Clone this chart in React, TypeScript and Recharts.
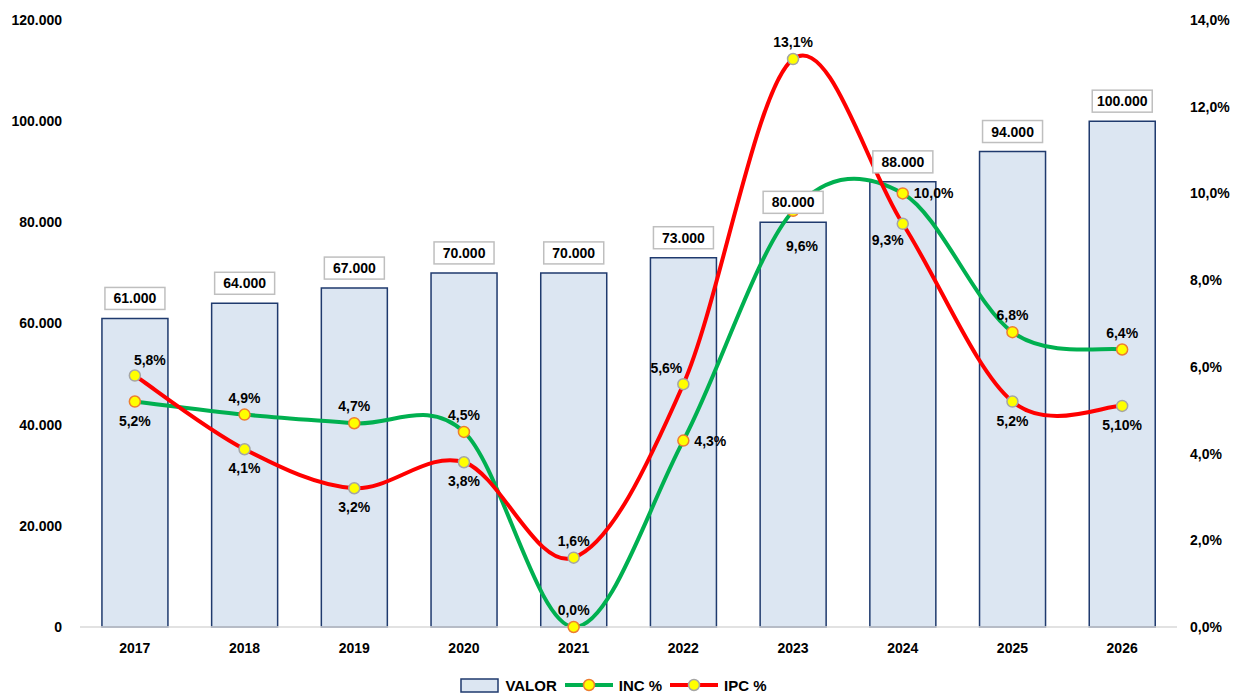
import React from 'react';
import { ComposedChart, Bar, Line, XAxis, YAxis, Legend, LabelList } from 'recharts';

const years = ['2017', '2018', '2019', '2020', '2021', '2022', '2023', '2024', '2025', '2026'];
const valor = [61000, 64000, 67000, 70000, 70000, 73000, 80000, 88000, 94000, 100000];
const inc = [5.2, 4.9, 4.7, 4.5, 0.0, 4.3, 9.6, 10.0, 6.8, 6.4];
const ipc = [5.8, 4.1, 3.2, 3.8, 1.6, 5.6, 13.1, 9.3, 5.2, 5.1];
const ipcText = ['5,8%', '4,1%', '3,2%', '3,8%', '1,6%', '5,6%', '13,1%', '9,3%', '5,2%', '5,10%'];
const leftTicks = [0, 20000, 40000, 60000, 80000, 100000, 120000];
const rightTicks = [0, 2, 4, 6, 8, 10, 12, 14];

// where each point label sits
const incPlace = ['bottom', 'top', 'top', 'top', 'top', 'right', 'bottomFar', 'right', 'top', 'top'];
const ipcPlace = ['topRight', 'bottom', 'bottom', 'bottom', 'top', 'topLeft', 'top', 'bottomLeft', 'bottom', 'bottom'];

const data = years.map((year, i) => ({ year, valor: valor[i], inc: inc[i], ipc: ipc[i] }));

const FONT = '"Liberation Sans", Arial, sans-serif';

const thousands = (v: number) => String(v).replace(/\B(?=(\d{3})+(?!\d))/g, '.');
const pct = (v: number) => v.toFixed(1).replace('.', ',') + '%';

// Excel-like smoothed line (Catmull-Rom as bezier)
function smoothCurve(context: any) {
  let pts: number[][] = [];
  return {
    areaStart() {},
    areaEnd() {},
    lineStart() {
      pts = [];
    },
    point(x: number, y: number) {
      pts.push([+x, +y]);
    },
    lineEnd() {
      if (!pts.length) return;
      context.moveTo(pts[0][0], pts[0][1]);
      for (let i = 0; i < pts.length - 1; i++) {
        const p0 = pts[i - 1] || pts[i];
        const p1 = pts[i];
        const p2 = pts[i + 1];
        const p3 = pts[i + 2] || p2;
        const t = 1 / 6;
        context.bezierCurveTo(
          p1[0] + (p2[0] - p0[0]) * t,
          p1[1] + (p2[1] - p0[1]) * t,
          p2[0] - (p3[0] - p1[0]) * t,
          p2[1] - (p3[1] - p1[1]) * t,
          p2[0],
          p2[1]
        );
      }
    },
  };
}

const makeDot = (stroke: string) => (props: any) => {
  const { cx, cy, index } = props;
  return <circle key={`d${index}`} cx={cx} cy={cy} r={5.5} fill="#FFFF00" stroke={stroke} strokeWidth={1.5} />;
};

const offsets: Record<string, [number, number]> = {
  top: [0, -17],
  bottom: [0, 19],
  topRight: [15, -16],
  topLeft: [-17, -16],
  bottomLeft: [-15, 16],
  bottomFar: [9, 35],
};

const makeLabel = (place: string[], texts: (i: number) => string) => (props: any) => {
  const { x, y, index } = props;
  const p = place[index];
  let anchor: 'middle' | 'start' = 'middle';
  let tx = x;
  let ty = y;
  if (p === 'right') {
    tx = x + 11;
    anchor = 'start';
  } else {
    tx = x + offsets[p][0];
    ty = y + offsets[p][1];
  }
  return (
    <text key={`l${index}`} x={tx} y={ty} textAnchor={anchor} dominantBaseline="central" fontFamily={FONT} fontSize={14} fontWeight={700} fill="#000">
      {texts(index)}
    </text>
  );
};

const BarLabel = (props: any) => {
  const { x, y, width, value } = props;
  const cx = x + width / 2;
  const w = 60;
  const h = 22;
  return (
    <g>
      <rect x={cx - w / 2} y={y - 9 - h} width={w} height={h} fill="#fff" stroke="#BFBFBF" strokeWidth={1.5} />
      <text x={cx} y={y - 9 - h / 2} textAnchor="middle" dominantBaseline="central" fontFamily={FONT} fontSize={14} fontWeight={700} fill="#000">
        {thousands(value)}
      </text>
    </g>
  );
};

const LegendContent = () => {
  const item = { display: 'flex', alignItems: 'center', marginRight: 8 } as const;
  const text = { fontFamily: FONT, fontSize: 15, fontWeight: 700, color: '#000', marginLeft: 6 } as const;
  const lineSwatch = (color: string, stroke: string) => (
    <svg width={48} height={14}>
      <line x1={0} y1={7} x2={48} y2={7} stroke={color} strokeWidth={4} />
      <circle cx={24} cy={7} r={5.5} fill="#FFFF00" stroke={stroke} strokeWidth={1.5} />
    </svg>
  );
  return (
    <div style={{ display: 'flex', justifyContent: 'center', alignItems: 'center', height: 30, paddingTop: 14, boxSizing: 'border-box' }}>
      <div style={item}>
        <svg width={39} height={15}>
          <rect x={1} y={1} width={37} height={13} fill="#DCE6F2" stroke="#1F3A6E" strokeWidth={1.5} />
        </svg>
        <span style={text}>VALOR</span>
      </div>
      <div style={item}>
        {lineSwatch('#00B050', '#ED7D31')}
        <span style={text}>INC %</span>
      </div>
      <div style={item}>
        {lineSwatch('#FF0000', '#A5A5A5')}
        <span style={text}>IPC %</span>
      </div>
    </div>
  );
};

export default function App() {
  const tick = { fill: '#000', fontSize: 14, fontWeight: 700, fontFamily: FONT };
  return (
    <div style={{ position: 'absolute', left: 0, top: 0, background: '#fff' }}>
      <ComposedChart width={1235} height={693} data={data} margin={{ top: 20, right: 0, bottom: 0, left: 0 }} barCategoryGap="20%">
        <XAxis
          dataKey="year"
          tick={tick}
          tickLine={false}
          tickSize={0}
          tickMargin={16}
          height={36}
          axisLine={{ stroke: '#D9D9D9', strokeWidth: 1.5 }}
        />
        <YAxis
          yAxisId="left"
          domain={[0, 120000]}
          ticks={leftTicks}
          tickFormatter={thousands}
          tick={tick}
          tickLine={false}
          axisLine={false}
          tickSize={0}
          tickMargin={18}
          width={80}
        />
        <YAxis
          yAxisId="right"
          orientation="right"
          domain={[0, 14]}
          ticks={rightTicks}
          tickFormatter={pct}
          tick={tick}
          tickLine={false}
          axisLine={false}
          tickSize={0}
          tickMargin={13}
          width={58}
        />
        <Legend verticalAlign="bottom" content={<LegendContent />} />
        <Bar yAxisId="left" dataKey="valor" name="VALOR" fill="#DCE6F2" stroke="#1F3A6E" strokeWidth={1.5} isAnimationActive={false}>
          <LabelList dataKey="valor" content={<BarLabel />} />
        </Bar>
        <Line
          yAxisId="right"
          dataKey="inc"
          name="INC %"
          type={smoothCurve as any}
          stroke="#00B050"
          strokeWidth={4}
          dot={makeDot('#ED7D31')}
          activeDot={false}
          label={makeLabel(incPlace, (i) => pct(inc[i]))}
          isAnimationActive={false}
        />
        <Line
          yAxisId="right"
          dataKey="ipc"
          name="IPC %"
          type={smoothCurve as any}
          stroke="#FF0000"
          strokeWidth={4}
          dot={makeDot('#A5A5A5')}
          activeDot={false}
          label={makeLabel(ipcPlace, (i) => ipcText[i])}
          isAnimationActive={false}
        />
      </ComposedChart>
    </div>
  );
}
